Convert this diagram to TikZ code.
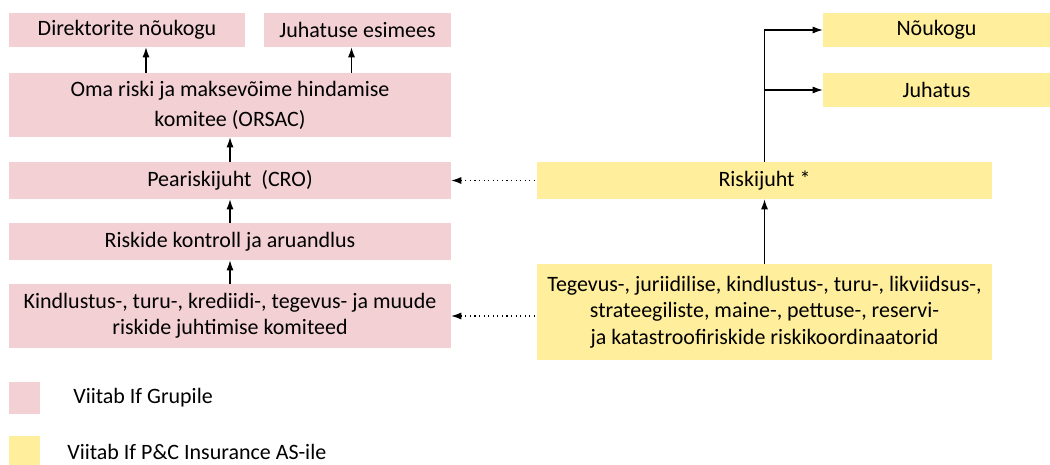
\documentclass[tikz,border=0pt]{standalone}
\usepackage{fontspec}
\setmainfont{Carlito}
\usetikzlibrary{arrows.meta}
\definecolor{ifpink}{RGB}{242,208,212}
\definecolor{ifyellow}{RGB}{255,239,156}
\newcommand{\boxfont}{\fontsize{12.5}{15}\selectfont}
\tikzset{
    common/.style={rectangle, inner sep=0pt, align=center, font=\boxfont},
    grupp/.style={common, fill=ifpink},
    kindl/.style={common, fill=ifyellow},
    legtext/.style={anchor=west, inner sep=0pt, font=\boxfont},
    report/.style={-{Latex[length=2mm,width=1.4mm]}, line width=0.6pt},
    info/.style={{Latex[length=2mm,width=1.4mm]}-, dotted, line width=0.6pt}
}

\begin{document}
\begin{tikzpicture}[x=0.02cm, y=-0.02cm]
    \useasboundingbox (0,0) rectangle (1050,465);

    % If Grupp
    \node[grupp, minimum width=4.72cm, minimum height=0.68cm] (dir) at (127,30) {Direktorite nõukogu};
    \node[grupp, minimum width=3.74cm, minimum height=0.68cm] (juh) at (357.5,30) {Juhatuse esimees};
    \node[grupp, minimum width=8.84cm, minimum height=1.28cm] (orsac) at (230,105) {Oma riski ja maksevõime hindamise\\[2pt] komitee (ORSAC)};
    \node[grupp, minimum width=8.84cm, minimum height=0.74cm] (pea) at (230,180.5) {Peariskijuht~ (CRO)};
    \node[grupp, minimum width=8.84cm, minimum height=0.74cm] (kontroll) at (230,241.5) {Riskide kontroll ja aruandlus};
    \node[grupp, minimum width=8.84cm, minimum height=1.28cm] (komit) at (230,316) {Kindlustus-, turu-, krediidi-, tegevus- ja muude\\ riskide juhtimise komiteed};

    % If P&C Insurance AS
    \node[kindl, minimum width=4.54cm, minimum height=0.68cm] (nou) at (936.5,30) {Nõukogu};
    \node[kindl, minimum width=4.54cm, minimum height=0.68cm] (juhatus) at (936.5,90) {Juhatus};
    \node[kindl, minimum width=9.10cm, minimum height=0.74cm] (risk) at (764.5,180.5) {Riskijuht *};
    \node[kindl, minimum width=9.10cm, minimum height=1.92cm] (coord) at (764.5,312) {Tegevus-, juriidilise, kindlustus-, turu-, likviidsus-,\\ strateegiliste, maine-, pettuse-, reservi-\\ ja katastroofiriskide riskikoordinaatorid};

    % legend
    \node[grupp, minimum width=0.62cm, minimum height=0.64cm] (leg1) at (24.5,398) {};
    \node[kindl, minimum width=0.62cm, minimum height=0.58cm] (leg2) at (24.5,450.5) {};
    \node[legtext] (leg1t) at (73,398) {Viitab If Grupile};
    \node[legtext] (leg2t) at (67,452) {Viitab If P\&C Insurance AS-ile};

    \draw[report] ([xshift=0.38cm]dir.south |- orsac.north) -- ([xshift=0.38cm]dir.south);
    \draw[report] ([xshift=-0.12cm]juh.south |- orsac.north) -- ([xshift=-0.12cm]juh.south);
    \draw[report] (pea) -- (orsac);
    \draw[report] (kontroll) -- (pea);
    \draw[report] (komit) -- (kontroll);

    \draw[report] (coord) -- (risk);
    \draw[report] (risk.north) |- (nou.west);
    \draw[report] (risk.north |- juhatus.west) -- (juhatus.west);

    \draw[info] (pea.east) -- (risk.west);
    \draw[info] (komit.east) -- (komit.east -| coord.west);
\end{tikzpicture}
\end{document}
